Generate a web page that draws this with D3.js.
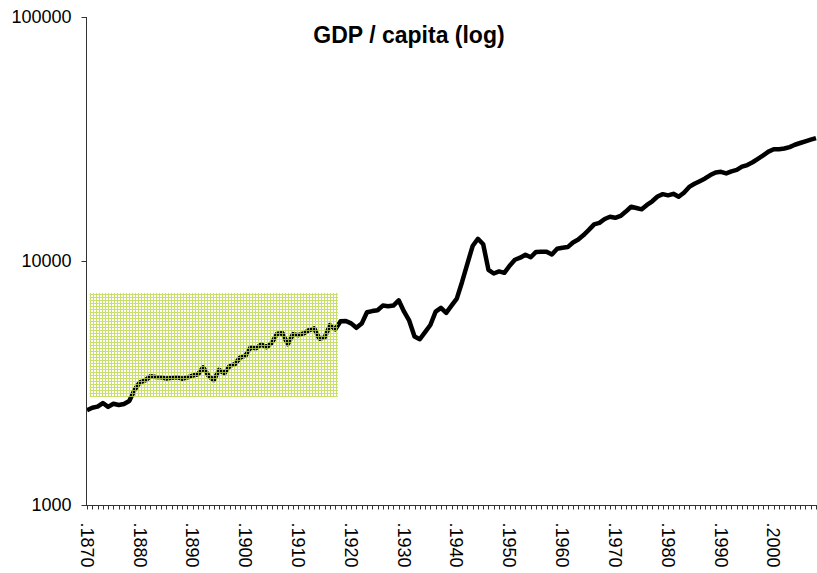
<!DOCTYPE html>
<html>
<head>
<meta charset="utf-8">
<script src="https://cdn.jsdelivr.net/npm/d3@7"></script>
<style>
  body { margin: 0; background: #fff; }
  svg { display: block; font-family: Arial, "Liberation Sans", sans-serif; }
</style>
</head>
<body>
<div class="chart"></div>
<script>
var width = 817
  , height = 573
  , margin = { top: 17, right: 1, bottom: 68, left: 86 }
  ;

// GDP per capita, one value per year from 1870 on
var startYear = 1870;
var gdp = [
  2445, 2503, 2531, 2617, 2523, 2599, 2569, 2595, 2667, 2964,
  3184, 3241, 3367, 3344, 3342, 3297, 3319, 3341, 3293, 3335,
  3392, 3429, 3666, 3387, 3248, 3577, 3462, 3712, 3782, 4022,
  4091, 4434, 4391, 4554, 4430, 4625, 5034, 5053, 4563, 5017,
  4964, 5046, 5201, 5301, 4799, 4864, 5459, 5248, 5659, 5680,
  5552, 5323, 5540, 6164, 6233, 6282, 6565, 6523, 6569, 6899,
  6213, 5691, 4908, 4777, 5114, 5467, 6204, 6430, 6126, 6561,
  7010, 8206, 9741, 11518, 12333, 11709, 9197, 8886, 9065, 8944,
  9561, 10116, 10316, 10613, 10359, 10897, 10914, 10920, 10631, 11230,
  11328, 11402, 11905, 12242, 12773, 13419, 14134, 14330, 14863, 15179,
  15030, 15304, 15944, 16689, 16491, 16284, 16975, 17567, 18373, 18789,
  18577, 18856, 18325, 19047, 20123, 20717, 21236, 21788, 22499, 23059,
  23201, 22849, 23298, 23616, 24349, 24732, 25389, 26214, 27082, 28066,
  28702, 28726, 28900, 29300, 29950, 30450, 30950, 31450, 31900
];
var years = gdp.map(function(d, i) { return startYear + i; });
var yearLabels = d3.range(1870, 2001, 10);
var yTicks = [1000, 10000, 100000];

// shaded box, in data units
var boxYears = [1870.5, 1917.5]
  , boxValues = [2770, 7400]
  ;

var svg = d3.select(".chart").append("svg")
  .attr("width", width)
  .attr("height", height);

var x = d3.scaleLinear()
  .domain([startYear, years[years.length - 1]])
  .range([margin.left + 1, width - margin.right]);

var y = d3.scaleLog()
  .domain([1000, 100000])
  .range([height - margin.bottom, margin.top]);

var defs = svg.append("defs");
var pat = defs.append("pattern")
  .attr("id", "grid")
  .attr("patternUnits", "userSpaceOnUse")
  .attr("width", 3)
  .attr("height", 3);
pat.append("rect").attr("x", 0).attr("y", 0).attr("width", 3).attr("height", 1)
  .attr("fill", "#b8d846").attr("fill-opacity", 0.8);
pat.append("rect").attr("x", 0).attr("y", 1).attr("width", 1).attr("height", 2)
  .attr("fill", "#b8d846").attr("fill-opacity", 0.8);

// title
svg.append("text")
  .attr("x", 409)
  .attr("y", 43)
  .attr("text-anchor", "middle")
  .attr("font-size", 23)
  .attr("font-weight", "bold")
  .text("GDP / capita (log)");

// line
var line = d3.line()
  .x(function(d, i) { return x(years[i]); })
  .y(function(d) { return y(d); });

svg.append("path")
  .datum(gdp)
  .attr("fill", "none")
  .attr("stroke", "#000")
  .attr("stroke-width", 4.5)
  .attr("stroke-linejoin", "round")
  .attr("d", line);

// highlighted period
svg.append("rect")
  .attr("x", x(boxYears[0]))
  .attr("y", y(boxValues[1]))
  .attr("width", x(boxYears[1]) - x(boxYears[0]))
  .attr("height", y(boxValues[0]) - y(boxValues[1]))
  .attr("fill", "url(#grid)");

// y axis
var yAxis = svg.append("g")
  .attr("transform", "translate(" + (margin.left + 0.5) + ",0)");
yAxis.append("line")
  .attr("y1", y(100000)).attr("y2", y(1000))
  .attr("stroke", "#333");
yAxis.selectAll(".yt")
  .data(yTicks)
  .enter().append("line")
  .attr("x1", -5).attr("x2", 0)
  .attr("y1", function(d) { return Math.round(y(d)) + 0.5; })
  .attr("y2", function(d) { return Math.round(y(d)) + 0.5; })
  .attr("stroke", "#333");
yAxis.selectAll("text")
  .data(yTicks)
  .enter().append("text")
  .attr("x", -15)
  .attr("y", function(d) { return y(d); })
  .attr("dy", "0.35em")
  .attr("text-anchor", "end")
  .attr("font-size", 18)
  .text(function(d) { return d; });

// x axis
var xAxis = svg.append("g");
var axisY = Math.round(y(1000)) + 0.5;
xAxis.append("line")
  .attr("x1", margin.left).attr("x2", width)
  .attr("y1", axisY).attr("y2", axisY)
  .attr("stroke", "#333");
xAxis.selectAll(".xt")
  .data(years)
  .enter().append("line")
  .attr("x1", function(d) { return Math.round(x(d)) + 0.5; })
  .attr("x2", function(d) { return Math.round(x(d)) + 0.5; })
  .attr("y1", axisY).attr("y2", axisY + 4)
  .attr("stroke", "#333");
xAxis.selectAll("text")
  .data(yearLabels)
  .enter().append("text")
  .attr("transform", function(d) { return "translate(" + x(d) + "," + (axisY + 17) + ")rotate(90)"; })
  .attr("dy", "0.35em")
  .attr("font-size", 18)
  .text(function(d) { return "." + d; });
</script>
</body>
</html>
